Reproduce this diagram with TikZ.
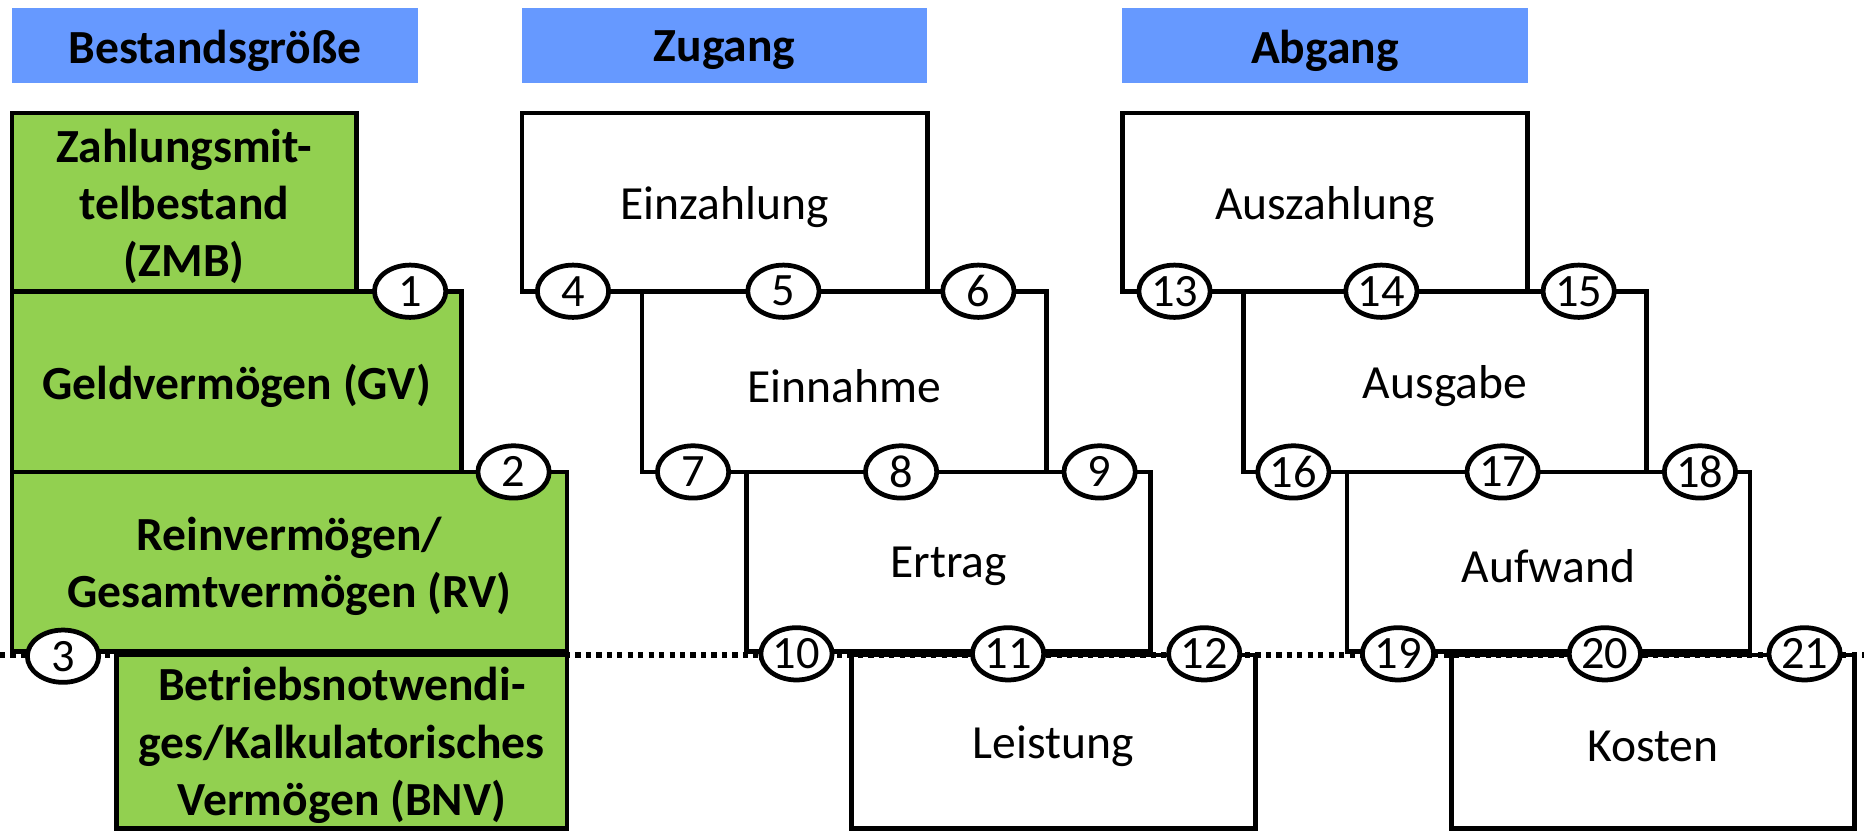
\documentclass[tikz,border=0pt]{standalone}
\usepackage{fontspec}
\setmainfont{Carlito}
\usetikzlibrary{shapes.geometric}
\definecolor{hdrblue}{RGB}{102,153,255}
\definecolor{bgreen}{RGB}{146,208,80}
\tikzset{
  txt/.style={font=\fontsize{20}{24}\selectfont, align=center, inner sep=0pt},
  btxt/.style={txt, font=\fontsize{20}{24}\selectfont\bfseries},
  hdr/.style={fill=hdrblue, inner sep=0pt, minimum width=#1, minimum height=31.5pt},
  gbox/.style={draw, fill=bgreen, line width=2pt, inner sep=0pt},
  wbox/.style={draw, line width=2pt, inner sep=0pt},
  sz/.style 2 args={minimum width=#1, minimum height=#2},
  numc/.style={ellipse, draw, fill=white, line width=2pt, inner sep=0pt,
               minimum width=30pt, minimum height=22pt,
               font=\fontsize{19.5}{23}\selectfont},
  dotline/.style={line width=2.4pt, dash pattern=on 2.2pt off 2.2pt}
}
\begin{document}
\begin{tikzpicture}[x=0.5pt,y=-0.5pt]
\useasboundingbox (0,0) rectangle (1568,700);

% headers
\node[hdr=171pt] (h1) at (181,38.5) {};
\node[hdr=170.5pt] (h2) at (609.5,38.5) {};
\node[hdr=170.5pt] (h3) at (1114.5,38.5) {};
\node[btxt] (h1t) at ([yshift=-2pt]h1.center) {Bestandsgröße};
\node[btxt] (h2t) at ([yshift=-2pt]h2.center) {Zugang};
\node[btxt] (h3t) at ([yshift=-2pt]h3.center) {Abgang};

% dotted base line
\coordinate (dl) at (0,551);
\coordinate (dr) at (1568,551);
\draw[dotline] (dl) -- (dr);

% green stock boxes
\node[gbox, sz={145pt}{75pt}] (zmb) at (155,170) {};
\node[gbox, sz={189pt}{76pt}] (gv) at (199,321) {};
\node[gbox, sz={233.5pt}{75.5pt}] (rv) at (243.5,472.5) {};
\node[gbox, sz={189.5pt}{73pt}] (bnv) at (287.5,624) {};
\node[btxt] (zmbt) at ([yshift=-2pt]zmb.center) {Zahlungsmit-\\telbestand\\(ZMB)};
\node[btxt] (gvt) at ([yshift=-2pt]gv.center) {Geldvermögen (GV)};
\node[btxt] (rvt) at ([yshift=-2pt]rv.center) {Reinvermögen/\\Gesamtvermögen (RV)};
\node[btxt] (bnvt) at ([yshift=-1.5pt]bnv.center) {Betriebsnotwendi-\\ges/Kalkulatorisches\\Vermögen (BNV)};

% Zugang boxes
\node[wbox, sz={170.5pt}{75pt}] (ez) at (609.5,170) {};
\node[wbox, sz={170pt}{76pt}] (en) at (710,321) {};
\node[wbox, sz={170pt}{75.5pt}] (er) at (798,472.5) {};
\node[wbox, sz={170pt}{73pt}] (le) at (886,624) {};
\node[txt] (ezt) at ([yshift=-2pt]ez.center) {Einzahlung};
\node[txt] (ent) at ([yshift=-2pt]en.center) {Einnahme};
\node[txt] (ert) at ([yshift=-2pt]er.center) {Ertrag};
\node[txt] (let) at ([yshift=-2pt]le.center) {Leistung};

% Abgang boxes
\node[wbox, sz={170.5pt}{75pt}] (az) at (1114.5,170) {};
\node[wbox, sz={169.5pt}{76pt}] (ag) at (1215.5,321) {};
\node[wbox, sz={169.5pt}{75.5pt}] (aw) at (1302.5,472.5) {};
\node[wbox, sz={169.5pt}{73pt}] (ko) at (1390.5,624) {};
\node[txt] (azt) at ([yshift=-2pt]az.center) {Auszahlung};
\node[txt] (agt) at ([yshift=-2pt]ag.center) {Ausgabe};
\node[txt] (awt) at ([yshift=-2pt]aw.center) {Aufwand};
\node[txt] (kot) at ([yshift=-2pt]ko.center) {Kosten};

% numbered ellipses
\node[numc] (c1) at (345,245) {1};
\node[numc] (c2) at (432,397) {2};
\node[numc] (c3) at (53,552) {3};
\node[numc] (c4) at (482,245) {4};
\node[numc] (c5) at (659,245) {5};
\node[numc] (c6) at (823,245) {6};
\node[numc] (c7) at (583,397) {7};
\node[numc] (c8) at (758,397) {8};
\node[numc] (c9) at (925,397) {9};
\node[numc] (c10) at (670,550) {10};
\node[numc] (c11) at (848,550) {11};
\node[numc] (c12) at (1013,550) {12};
\node[numc] (c13) at (988,245) {13};
\node[numc] (c14) at (1162,245) {14};
\node[numc] (c15) at (1328,245) {15};
\node[numc] (c16) at (1088,397) {16};
\node[numc] (c17) at (1264,397) {17};
\node[numc] (c18) at (1430,397) {18};
\node[numc] (c19) at (1176,550) {19};
\node[numc] (c20) at (1350,550) {20};
\node[numc] (c21) at (1518,550) {21};
\end{tikzpicture}
\end{document}
